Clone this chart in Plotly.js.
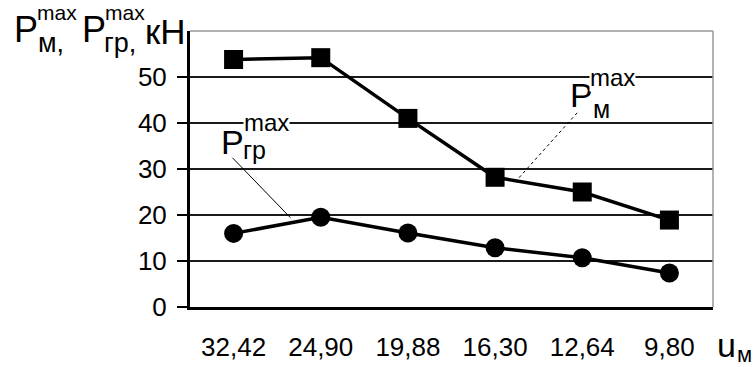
<!DOCTYPE html>
<html>
<head>
<meta charset="utf-8">
<script src="https://cdn.plot.ly/plotly-3.0.1.min.js"></script>
<style>html,body{margin:0;padding:0;background:#fff;}#chart{width:755px;height:367px;}</style>
</head>
<body>
<div id="chart"></div>
<script>
// ---- data ----
const categories = ["32,42", "24,90", "19,88", "16,30", "12,64", "9,80"];
const pMax = [53.8, 54.2, 41.0, 28.2, 25.0, 18.9];      // P_м^max, кН
const pGrMax = [16.0, 19.5, 16.1, 12.9, 10.7, 7.4];     // P_гр^max, кН
const yTicks = [0, 10, 20, 30, 40, 50];
const boundaries = [0.5, 1.5, 2.5, 3.5, 4.5];

// ---- layout helpers (pixel -> paper) ----
const L = 189.5, R = 713, T = 31, B = 307.5;
const px = x => (x - L) / (R - L);
const py = y => (B - y) / (B - T);
const FONT = "Liberation Sans, Arial, sans-serif";

function ann(text, xLeft, yMid, size, bg) {
  return {
    text: text, xref: "paper", yref: "paper", x: px(xLeft), y: py(yMid),
    xanchor: "left", yanchor: "middle", showarrow: false,
    font: {family: FONT, size: size, color: "#000"},
    bgcolor: bg ? "#fff" : "rgba(0,0,0,0)", borderpad: 0
  };
}

const traces = [
  {x: categories, y: pMax, type: "scatter", mode: "lines+markers",
   line: {color: "#000", width: 3.5},
   marker: {symbol: "square", size: 19, color: "#000"},
   xaxis: "x", yaxis: "y", cliponaxis: false},
  {x: categories, y: pGrMax, type: "scatter", mode: "lines+markers",
   line: {color: "#000", width: 3.5},
   marker: {symbol: "circle", size: 19, color: "#000"},
   xaxis: "x", yaxis: "y", cliponaxis: false}
];

const layout = {
  width: 755, height: 367,
  margin: {l: L, r: 755 - R, t: T, b: 367 - B, pad: 0},
  paper_bgcolor: "#fff", plot_bgcolor: "#fff",
  showlegend: false,
  font: {family: FONT, color: "#000", size: 26},
  xaxis: {
    type: "category", range: [-0.5, 5.5], fixedrange: true,
    showgrid: false, zeroline: false,
    showline: true, linecolor: "#000", linewidth: 3,
    ticks: "", ticklabelstandoff: 15,
    tickfont: {family: FONT, size: 26, color: "#000"}
  },
  xaxis2: {
    type: "linear", overlaying: "x", anchor: "y", side: "bottom",
    range: [-0.5, 5.5], tickvals: boundaries, showticklabels: false,
    ticks: "outside", ticklen: 9, tickwidth: 2, tickcolor: "#000",
    showgrid: true, gridcolor: "#1a1a1a", gridwidth: 1.7,
    zeroline: false, showline: false
  },
  yaxis: {
    range: [0, 60], tickvals: yTicks, ticktext: yTicks.map(String),
    showgrid: true, gridcolor: "#1a1a1a", gridwidth: 1.7,
    zeroline: false, showline: true, linecolor: "#000", linewidth: 3,
    ticks: "outside", ticklen: 10, tickwidth: 2, tickcolor: "#000",
    ticklabelstandoff: 5,
    tickfont: {family: FONT, size: 26, color: "#000"}
  },
  shapes: [
    {type: "line", xref: "paper", yref: "paper", x0: 0, x1: 1, y0: 1, y1: 1,
     line: {color: "#9a9a9a", width: 1.5}},
    {type: "line", xref: "paper", yref: "paper", x0: 1, x1: 1, y0: 0, y1: 1,
     line: {color: "#9a9a9a", width: 1.5}},
    // leader lines
    {type: "line", xref: "paper", yref: "paper",
     x0: px(577), y0: py(113), x1: px(517), y1: py(180),
     line: {color: "#000", width: 1, dash: "dot"}},
    {type: "line", xref: "paper", yref: "paper",
     x0: px(232), y0: py(158), x1: px(290), y1: py(218),
     line: {color: "#000", width: 1}}
  ],
  annotations: [
    // y-axis title (top-left)
    ann("P", 12, 29.5, 36, false),
    ann("max", 35, 12, 21, false),
    ann("м,", 36, 43, 27, false),
    ann("P", 80, 29.5, 36, false),
    ann("max", 103, 12, 21, false),
    ann("гр,", 102, 43, 27, false),
    ann("кН", 143, 31, 35, false),
    // P_м^max label
    ann("P", 569, 95.5, 34, false),
    ann("max", 589, 77.5, 24, true),
    ann("м", 592, 109.5, 25, false),
    // P_гр^max label
    ann("P", 220, 142.5, 34, false),
    ann("max", 243, 123, 24, true),
    ann("гр", 242, 150.5, 25, false),
    // x-axis label u_м
    ann("u", 716, 346, 34, false),
    ann("м", 736, 355.5, 22, false)
  ]
};

Plotly.newPlot("chart", traces, layout, {staticPlot: true, displayModeBar: false});
</script>
</body>
</html>
